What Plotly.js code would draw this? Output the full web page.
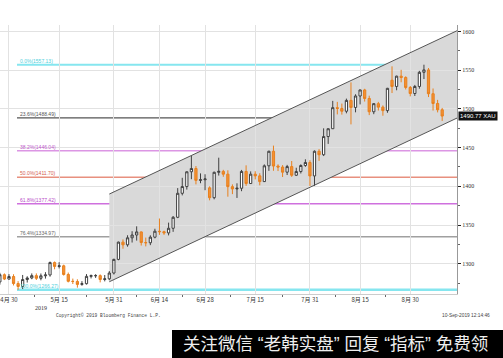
<!DOCTYPE html>
<html><head><meta charset="utf-8">
<script src="https://cdn.plot.ly/plotly-3.0.1.min.js"></script>
<style>html,body{margin:0;padding:0;background:#fff}#chart{width:503px;height:358px}</style>
</head><body><div id="chart"></div>
<script>
const dates = [
'2019-04-26','2019-04-29','2019-04-30','2019-05-01','2019-05-02','2019-05-03',
'2019-05-06','2019-05-07','2019-05-08','2019-05-09','2019-05-10',
'2019-05-13','2019-05-14','2019-05-15','2019-05-16','2019-05-17',
'2019-05-20','2019-05-21','2019-05-22','2019-05-23','2019-05-24',
'2019-05-27','2019-05-28','2019-05-29','2019-05-30','2019-05-31',
'2019-06-03','2019-06-04','2019-06-05','2019-06-06','2019-06-07',
'2019-06-10','2019-06-11','2019-06-12','2019-06-13','2019-06-14',
'2019-06-17','2019-06-18','2019-06-19','2019-06-20','2019-06-21',
'2019-06-24','2019-06-25','2019-06-26','2019-06-27','2019-06-28',
'2019-07-01','2019-07-02','2019-07-03','2019-07-04','2019-07-05',
'2019-07-08','2019-07-09','2019-07-10','2019-07-11','2019-07-12',
'2019-07-15','2019-07-16','2019-07-17','2019-07-18','2019-07-19',
'2019-07-22','2019-07-23','2019-07-24','2019-07-25','2019-07-26',
'2019-07-29','2019-07-30','2019-07-31','2019-08-01','2019-08-02',
'2019-08-05','2019-08-06','2019-08-07','2019-08-08','2019-08-09',
'2019-08-12','2019-08-13','2019-08-14','2019-08-15','2019-08-16',
'2019-08-19','2019-08-20','2019-08-21','2019-08-22','2019-08-23',
'2019-08-26','2019-08-27','2019-08-28','2019-08-29','2019-08-30',
'2019-09-02','2019-09-03','2019-09-04','2019-09-05','2019-09-06',
'2019-09-09','2019-09-10'];

const openP = [
1276.5,1285.8,1280.2,1283.5,1274.4,1270.6,
1279.6,1281.6,1284.6,1281.2,1284.4,
1285.5,1301.5,1296.5,1297.3,1286.1,
1277.3,1277.1,1273.3,1274.2,1283.7,
1284.6,1284.6,1279.6,1280.5,1288.0,
1305.6,1327.9,1324.4,1333.5,1337.1,
1341.1,1327.4,1327.1,1334.3,1342.0,
1341.4,1339.8,1345.8,1360.0,1391.0,
1399.7,1418.8,1423.0,1407.7,1408.5,
1398.0,1385.3,1418.1,1419.3,1415.7,
1399.6,1396.6,1397.5,1419.2,1403.6,
1415.7,1413.5,1406.1,1426.5,1445.3,
1426.2,1424.9,1418.3,1425.5,1414.3,
1419.1,1426.9,1430.8,1413.4,1445.3,
1440.8,1464.3,1474.4,1501.6,1500.6,
1497.0,1511.0,1501.9,1516.7,1524.5,
1513.5,1496.3,1506.8,1502.3,1497.8,
1537.0,1529.0,1542.3,1540.6,1527.7,
1519.9,1529.0,1547.3,1550.4,1519.6,
1507.0,1498.9];

const highP = [
1288.3,1287.5,1286.6,1286.4,1277.5,1285.5,
1283.8,1287.5,1287.5,1287.4,1289.1,
1302.8,1302.9,1302.0,1298.8,1288.6,
1280.8,1279.9,1277.5,1286.6,1286.0,
1286.5,1286.2,1285.4,1290.5,1306.5,
1328.6,1331.4,1336.8,1342.0,1348.3,
1341.6,1333.8,1336.7,1345.2,1358.4,
1342.7,1353.1,1361.6,1397.7,1411.0,
1419.2,1439.2,1426.2,1416.7,1415.6,
1400.0,1419.0,1437.0,1421.3,1420.7,
1402.5,1403.9,1421.2,1427.1,1419.3,
1419.5,1416.9,1428.3,1446.0,1452.6,
1428.4,1427.4,1427.7,1432.7,1424.0,
1428.4,1434.9,1433.7,1446.4,1448.0,
1474.9,1474.8,1510.4,1509.1,1506.9,
1513.3,1534.3,1518.9,1524.9,1526.0,
1517.1,1507.5,1509.1,1504.5,1527.2,
1555.0,1542.9,1550.5,1542.1,1529.6,
1531.0,1549.2,1557.1,1552.8,1526.4,
1511.7,1501.3];

const lowP = [
1273.0,1278.9,1279.5,1271.9,1266.3,1267.3,
1275.7,1280.0,1279.0,1278.6,1280.8,
1283.3,1292.8,1293.9,1284.7,1275.9,
1273.8,1269.1,1271.6,1273.1,1281.0,
1281.7,1275.9,1277.2,1278.7,1286.1,
1304.5,1319.4,1322.0,1327.4,1329.9,
1323.5,1322.4,1324.0,1332.8,1337.3,
1337.3,1336.6,1341.2,1358.9,1388.3,
1395.8,1409.2,1402.5,1404.0,1395.0,
1381.9,1383.2,1413.9,1412.3,1386.6,
1389.9,1385.0,1393.7,1400.6,1403.2,
1409.0,1401.3,1405.6,1420.0,1420.1,
1419.7,1412.0,1414.6,1412.2,1413.3,
1416.6,1425.2,1400.5,1400.6,1432.9,
1439.1,1454.8,1474.1,1492.9,1492.6,
1494.3,1480.0,1495.6,1505.8,1509.5,
1492.0,1493.2,1497.9,1491.2,1495.0,
1520.5,1524.1,1534.4,1525.1,1516.2,
1516.7,1526.1,1538.6,1515.3,1497.9,
1495.5,1484.5];

const closeP = [
1285.8,1280.2,1283.5,1274.4,1270.6,1279.6,
1281.6,1284.6,1281.2,1284.4,1285.5,
1301.5,1296.5,1297.3,1286.1,1277.3,
1277.1,1273.3,1274.2,1283.7,1284.6,
1284.6,1279.6,1280.5,1288.0,1305.6,
1327.9,1324.4,1333.5,1337.1,1341.1,
1327.4,1327.1,1334.3,1342.0,1341.4,
1339.8,1345.8,1360.0,1391.0,1399.7,
1418.8,1423.0,1407.7,1408.5,1409.5,
1385.3,1418.1,1419.3,1415.7,1399.6,
1396.6,1397.5,1419.2,1403.6,1415.7,
1413.5,1406.1,1426.5,1445.3,1426.2,
1424.9,1418.3,1425.5,1414.3,1419.1,
1426.9,1430.8,1413.4,1445.3,1440.8,
1464.3,1474.4,1501.6,1500.6,1497.0,
1511.0,1501.9,1516.7,1524.5,1513.5,
1496.3,1506.8,1502.3,1497.8,1526.6,
1529.0,1542.3,1540.6,1527.7,1519.9,
1529.0,1547.3,1550.4,1519.6,1507.0,
1498.9,1490.77];

const tickDates = ['2019-04-30','2019-05-15','2019-05-31','2019-06-14','2019-06-28','2019-07-15','2019-07-31','2019-08-15','2019-08-30'];
const tickLabels = ['4月 30','5月 15','5月 31','6月 14','6月 28','7月 15','7月 31','8月 15','8月 30'];

const fibNames  = ['0.0%','23.6%','38.2%','50.0%','61.8%','76.4%','100.0%'];
const fibValues = [1557.13,1488.49,1446.04,1411.70,1377.42,1334.97,1266.27];
const fibLineColors  = ['#86e6ef','#555555','#dc96e4','#e8907f','#cf70de','#a0a0a0','#86e6ef'];
const fibLabelColors = ['#4fcfdc','#555555','#c058cc','#d4604f','#b84cc8','#666666','#4fcfdc'];
const fibLineWidths  = [2,1.2,1.5,1.5,1.5,1.5,2.5];

const channelStartDate = '2019-05-30';
const channelUpper = [1390.0, 1601.0];
const channelLower = [1276.7, 1488.2];

const lastPriceLabel = '1490.77 XAU';

/* ---- build ---- */
const xIdx = dates.map((d, i) => i);
const tickIdx = tickDates.map(d => dates.indexOf(d));
const minorIdx = tickIdx.slice(0, -1).map((v, i) => (v + tickIdx[i + 1]) / 2);
const xRange = [0.03, 100.25];
const yRange = [1260.9, 1608.4];
const cx0 = dates.indexOf(channelStartDate), cx1 = xRange[1];
const plotW = 457, plotH = 269;

const shapes = [
  {type:'path', xref:'x', yref:'y', layer:'below',
   path:`M ${cx0},${channelUpper[0]} L ${cx1},${channelUpper[1]} L ${cx1},${channelLower[1]} L ${cx0},${channelLower[0]} Z`,
   fillcolor:'#d9d9d9', line:{width:0}},
];
fibValues.forEach((v, i) => shapes.push({type:'line', xref:'paper', yref:'y', layer:'below',
  x0:17/plotW, x1:1, y0:v, y1:v, line:{color:fibLineColors[i], width:fibLineWidths[i]}}));
shapes.push({type:'line', xref:'x', yref:'y', x0:cx0, x1:cx1, y0:channelUpper[0], y1:channelUpper[1], line:{color:'#555', width:1}});
shapes.push({type:'line', xref:'x', yref:'y', x0:cx0, x1:cx1, y0:channelLower[0], y1:channelLower[1], line:{color:'#555', width:1}});
shapes.push({type:'rect', xref:'paper', yref:'paper', x0:172/plotW, x1:1.2, y0:-0.4, y1:(294-330)/plotH,
  fillcolor:'#000', line:{width:0}});

const annotations = fibValues.map((v, i) => ({
  xref:'paper', yref:'y', x:18/plotW, y:v, xanchor:'left', yanchor:'bottom', yshift:-1,
  text:`${fibNames[i]}(${v.toFixed(2)})`, showarrow:false,
  font:{family:'Liberation Sans', size:5, color:fibLabelColors[i]}
}));
annotations.push({xref:'paper', yref:'y', x:1, y:closeP[closeP.length-1], xanchor:'left', yanchor:'middle', xshift:1,
  text:lastPriceLabel, showarrow:false, bgcolor:'#111', borderpad:1,
  font:{family:'Liberation Sans', size:6, color:'#fff'}});
annotations.push({xref:'paper', yref:'paper', x:33/plotW, y:(294-308)/plotH, xanchor:'left', yanchor:'middle',
  text:'2019', showarrow:false, font:{family:'Liberation Serif', size:6, color:'#333'}});
annotations.push({xref:'paper', yref:'paper', x:54/plotW, y:(294-315)/plotH, xanchor:'left', yanchor:'middle',
  text:'Copyright© 2019 Bloomberg Finance L.P.', showarrow:false, font:{family:'Liberation Mono', size:4.6, color:'#444'}});
annotations.push({xref:'paper', yref:'paper', x:440/plotW, y:(294-315)/plotH, xanchor:'left', yanchor:'middle',
  text:'10-Sep-2019 12:14:46', showarrow:false, font:{family:'Liberation Sans', size:4.8, color:'#444'}});
annotations.push({xref:'paper', yref:'paper', x:181/plotW, y:(294-344)/plotH, xanchor:'left', yanchor:'middle',
  text:'关注微信 “老韩实盘” 回复 “指标” 免费领', showarrow:false,
  font:{family:'Liberation Sans, Noto Sans CJK SC', size:17.5, color:'#eeeeee'}});

const trace = {
  type:'candlestick', x:xIdx, open:openP, high:highP, low:lowP, close:closeP,
  increasing:{line:{color:'#404040', width:1}, fillcolor:'#ffffff'},
  decreasing:{line:{color:'#e8801e', width:1}, fillcolor:'#f39034'},
  whiskerwidth:0, hoverinfo:'none', showlegend:false
};

const layout = {
  width:503, height:358,
  margin:{l:0, r:46, t:25, b:64},
  paper_bgcolor:'#fff', plot_bgcolor:'#fff',
  showlegend:false,
  xaxis:{type:'linear', range:xRange, tickmode:'array', tickvals:tickIdx, ticktext:tickLabels,
    showgrid:true, gridcolor:'#e2e2e2', gridwidth:1, zeroline:false,
    showline:true, linecolor:'#cccccc', ticks:'', ticklen:0,
    tickfont:{family:'Noto Sans CJK SC', size:6, color:'#333'},
    minor:{tickvals:minorIdx, ticks:'outside', ticklen:2, tickcolor:'#666', showgrid:false},
    rangeslider:{visible:false}, fixedrange:true},
  yaxis:{side:'right', range:yRange, tick0:0, dtick:50, showgrid:true, gridcolor:'#e2e2e2', zeroline:false,
    showline:true, linecolor:'#999', ticks:'outside', ticklen:3, tickcolor:'#222',
    tickfont:{family:'Liberation Serif', size:6, color:'#333'},
    minor:{dtick:25, ticks:'outside', ticklen:2, tickcolor:'#666', showgrid:false}, fixedrange:true},
  shapes, annotations
};

Plotly.newPlot('chart', [trace], layout, {displayModeBar:false, staticPlot:true});
</script>
</body></html>
